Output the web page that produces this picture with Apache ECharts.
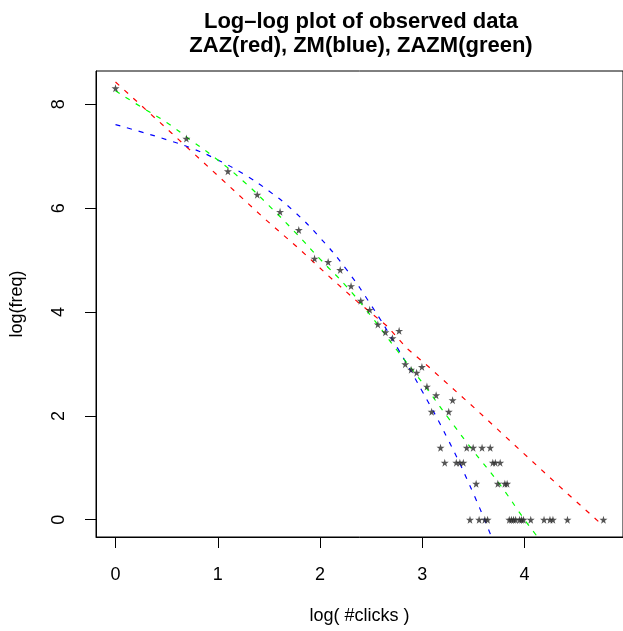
<!DOCTYPE html>
<html>
<head>
<meta charset="utf-8">
<script src="https://cdn.jsdelivr.net/npm/echarts@6/dist/echarts.min.js"></script>
<style>
html,body{margin:0;padding:0;background:#fff;}
#chart{width:623px;height:631px;}
</style>
</head>
<body>
<div id="chart"></div>
<script>
// observed data: x = log(#clicks), y = log(freq)
var logClicks = [0, 0.693, 1.099, 1.386, 1.609, 1.792, 1.946, 2.079, 2.197, 2.303,
  2.398, 2.485, 2.565, 2.639, 2.708, 2.773, 2.833, 2.890, 2.944, 2.996,
  3.045, 3.091, 3.135, 3.178, 3.219, 3.258, 3.296, 3.332, 3.367, 3.401,
  3.434, 3.466, 3.497, 3.526, 3.555, 3.584, 3.611, 3.638, 3.664, 3.689,
  3.714, 3.738, 3.761, 3.807, 3.829, 3.850, 3.871, 3.892, 3.912, 3.951,
  3.970, 3.989, 4.060, 4.190, 4.248, 4.277, 4.419, 4.771];
var logFreq = [8.310, 7.340, 6.712, 6.260, 5.930, 5.580, 5.030, 4.963, 4.812, 4.500,
  4.220, 4.043, 3.761, 3.611, 3.497, 3.638, 2.996, 2.890, 2.833, 2.944,
  2.565, 2.079, 2.398, 1.386, 1.099, 2.079, 2.303, 1.099, 1.099, 1.099,
  1.386, 0, 1.386, 0.693, 0, 1.386, 0, 0, 1.386, 1.099,
  1.099, 0.693, 1.099, 0.693, 0.693, 0, 0, 0, 0, 0,
  0, 0, 0, 0, 0, 0, 0, 0];

// fitted curves
var zazX = [0, 0.552, 1.004, 1.445, 1.80, 2.075, 2.365, 2.655, 2.849, 3.059, 3.511, 3.962, 4.398, 4.771];
var zazY = [8.43, 7.44, 6.62, 5.82, 5.21, 4.71, 4.20, 3.73, 3.30, 2.95, 2.15, 1.33, 0.54, -0.12];

var zmX = [0, 0.25, 0.5, 0.75, 1.0, 1.25, 1.5, 1.75, 2.0, 2.25, 2.5, 2.75, 3.0, 3.25, 3.5, 3.68];
var zmY = [7.61, 7.47, 7.32, 7.15, 6.93, 6.66, 6.33, 5.93, 5.43, 4.84, 4.13, 3.33, 2.47, 1.55, 0.50, -0.35];

var zazmX = [0, 0.25, 0.5, 0.75, 1.0, 1.25, 1.5, 1.75, 2.0, 2.25, 2.5, 2.75, 3.0, 3.25, 3.5, 3.75, 4.0, 4.13];
var zazmY = [8.26, 7.95, 7.65, 7.29, 6.93, 6.52, 6.05, 5.55, 5.02, 4.51, 3.92, 3.27, 2.64, 1.97, 1.32, 0.70, 0.0, -0.34];

var xTicks = [0, 1, 2, 3, 4];
var yTicks = [0, 2, 4, 6, 8];

function pairs(xs, ys) { return xs.map(function (x, i) { return [x, ys[i]]; }); }

var FONT = '"Liberation Sans", Arial, Helvetica, sans-serif';
var star = 'path://M50,0 L61,35 L98,35 L68,57 L79,91 L50,70 L21,91 L32,57 L2,35 L39,35 Z';

var chart = echarts.init(document.getElementById('chart'), null, {renderer: 'canvas'});
chart.setOption({
  animation: false,
  backgroundColor: '#ffffff',
  title: {
    text: 'Log–log plot of observed data\nZAZ(red), ZM(blue), ZAZM(green)',
    left: 356, top: 5, textAlign: 'center',
    textStyle: {fontFamily: FONT, fontWeight: 'bold', fontSize: 22, lineHeight: 24, color: '#000'}
  },
  grid: {left: 94, top: 71, width: 533, height: 466, show: true, borderColor: '#000', borderWidth: 1, backgroundColor: 'transparent'},
  xAxis: {
    type: 'value', min: -0.1908, max: 4.962,
    name: 'log( #clicks )', nameLocation: 'middle', nameGap: 70,
    nameTextStyle: {fontFamily: FONT, fontSize: 18, color: '#000'},
    axisLine: {show: true, onZero: false, lineStyle: {color: '#000', width: 1}},
    axisTick: {show: true, inside: false, length: 11, customValues: xTicks, lineStyle: {color: '#000'}},
    axisLabel: {show: true, customValues: xTicks, margin: 29, fontFamily: FONT, fontSize: 18, color: '#000'},
    splitLine: {show: false}
  },
  yAxis: {
    type: 'value', min: -0.3324, max: 8.6424,
    name: 'log(freq)', nameLocation: 'middle', nameGap: 70, nameRotate: 90,
    nameTextStyle: {fontFamily: FONT, fontSize: 18, color: '#000'},
    axisLine: {show: true, onZero: false, lineStyle: {color: '#000', width: 1}},
    axisTick: {show: true, inside: false, length: 11, customValues: yTicks, lineStyle: {color: '#000'}},
    axisLabel: {show: true, customValues: yTicks, rotate: 90, margin: 28, fontFamily: FONT, fontSize: 18, color: '#000'},
    splitLine: {show: false}
  },
  series: [
    {type: 'line', name: 'ZAZ', data: pairs(zazX, zazY), showSymbol: false, smooth: false,
      lineStyle: {color: '#ff0000', width: 1.2, type: [5, 7]}, clip: true, z: 2},
    {type: 'line', name: 'ZM', data: pairs(zmX, zmY), showSymbol: false, smooth: true,
      lineStyle: {color: '#0000ff', width: 1.2, type: [5, 7]}, clip: true, z: 2},
    {type: 'line', name: 'ZAZM', data: pairs(zazmX, zazmY), showSymbol: false, smooth: true,
      lineStyle: {color: '#00ff00', width: 1.2, type: [5, 7]}, clip: true, z: 2},
    {type: 'scatter', name: 'observed', data: pairs(logClicks, logFreq), symbol: star, symbolSize: 8,
      itemStyle: {color: '#2a2a2a'}, z: 3}
  ]
});
</script>
</body>
</html>
